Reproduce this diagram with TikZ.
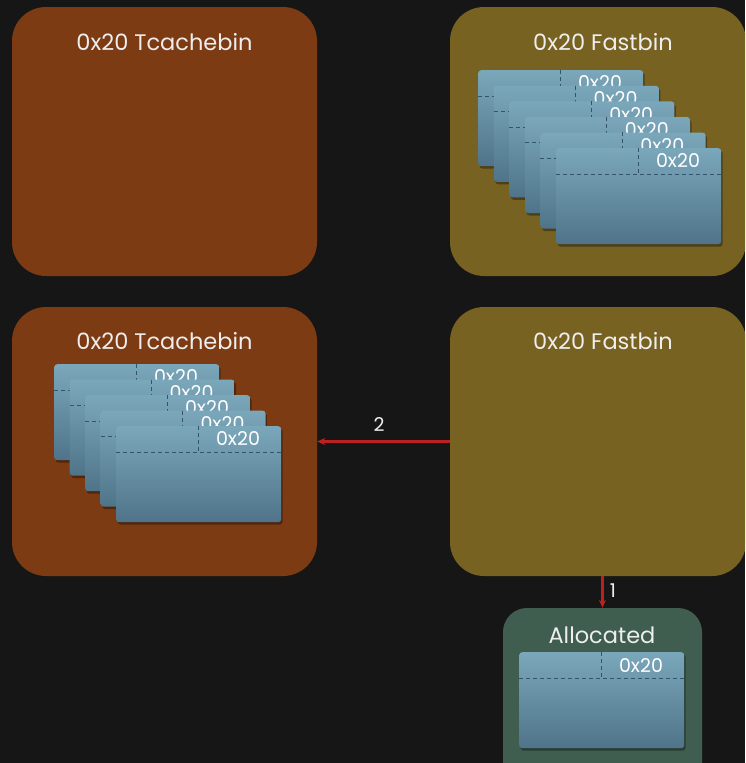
\documentclass[tikz,border=0pt]{standalone}
\usepackage{fontspec}
\setmainfont{Poppins}
\usetikzlibrary{shadows,arrows.meta}
\definecolor{bgc}{HTML}{161616}
\definecolor{tcc}{HTML}{7D3B14}
\definecolor{fbc}{HTML}{786222}
\definecolor{alc}{HTML}{3F5E50}
\definecolor{cardtop}{HTML}{7BA7BB}
\definecolor{cardbot}{HTML}{4F7489}
\definecolor{dashc}{HTML}{34546A}
\definecolor{txtc}{HTML}{EEEEEE}
\definecolor{arrc}{HTML}{BC2020}
\tikzset{
  bin/.style={rounded corners=34pt, inner sep=0pt, draw=none},
  title/.style={text=txtc, font=\fontsize{22.5}{26}\selectfont, inner sep=0pt},
  card/.style={rounded corners=3pt, inner sep=0pt, minimum width=165pt, minimum height=96pt,
     top color=cardtop, bottom color=cardbot, draw=none,
     drop shadow={shadow xshift=1.5pt, shadow yshift=-2.5pt, opacity=0.35, fill=black}},
  cdash/.style={draw=dashc, line width=0.8pt, dash pattern=on 4pt off 3pt},
  cardtxt/.style={text=white, font=\fontsize{19}{22}\selectfont, inner sep=0pt},
  redarr/.style={draw=arrc, line width=2.2pt, -{Stealth[length=8pt,width=7pt]}},
  lbl/.style={text=txtc, font=\fontsize{19}{22}\selectfont, inner sep=0pt}
}
\newcommand\mkcard[3]{%
  \node[card, anchor=north west] (#1) at (#2,-#3) {};
  \draw[cdash] ([yshift=-26pt]#1.north west) -- ([yshift=-26pt]#1.north east);
  \draw[cdash] ([xshift=82pt]#1.north west) -- ([xshift=82pt,yshift=-26pt]#1.north west);
  \node[cardtxt] (#1t) at ([xshift=122pt,yshift=-13pt]#1.north west) {0x20};
}
\begin{document}
\begin{tikzpicture}[x=1pt,y=1pt]
\clip (0,0) rectangle (745,-763);
\fill[bgc] (0,0) rectangle (745,-763);
% top row
\node[bin, fill=tcc, minimum width=305pt, minimum height=269pt] (tc1) at (164.5,-141.5) {};
\node[title] (tc1t) at (164.5,-42) {0x20 Tcachebin};
\node[bin, fill=fbc, minimum width=296pt, minimum height=269pt] (fb1) at (598,-141.5) {};
\node[title] (fb1t) at (603,-42) {0x20 Fastbin};
\mkcard{a1}{478}{70}
\mkcard{a2}{493.6}{85.6}
\mkcard{a3}{509.2}{101.2}
\mkcard{a4}{524.8}{116.8}
\mkcard{a5}{540.4}{132.4}
\mkcard{a6}{556}{148}
% middle row
\node[bin, fill=tcc, minimum width=305pt, minimum height=269pt] (tc2) at (164.5,-441.5) {};
\node[title] (tc2t) at (164.5,-341) {0x20 Tcachebin};
\node[bin, fill=fbc, minimum width=296pt, minimum height=269pt] (fb2) at (598,-441.5) {};
\node[title] (fb2t) at (603,-341) {0x20 Fastbin};
\mkcard{b1}{54}{364}
\mkcard{b2}{69.5}{379.5}
\mkcard{b3}{85}{395}
\mkcard{b4}{100.5}{410.5}
\mkcard{b5}{116}{426}
% allocated
\node[bin, fill=alc, minimum width=199pt, minimum height=180pt, rounded corners=24pt] (al) at (602.5,-698) {};
\node[title] (alt) at (602,-635) {Allocated};
\mkcard{c1}{519}{652}
% arrows
\draw[redarr] (fb2.west) -- (tc2.east);
\node[lbl] (l2) at (379,-425) {2};
\draw[redarr] (al.north |- fb2.south) -- (al.north);
\node[lbl] (l1) at (613,-591) {1};
\end{tikzpicture}
\end{document}
